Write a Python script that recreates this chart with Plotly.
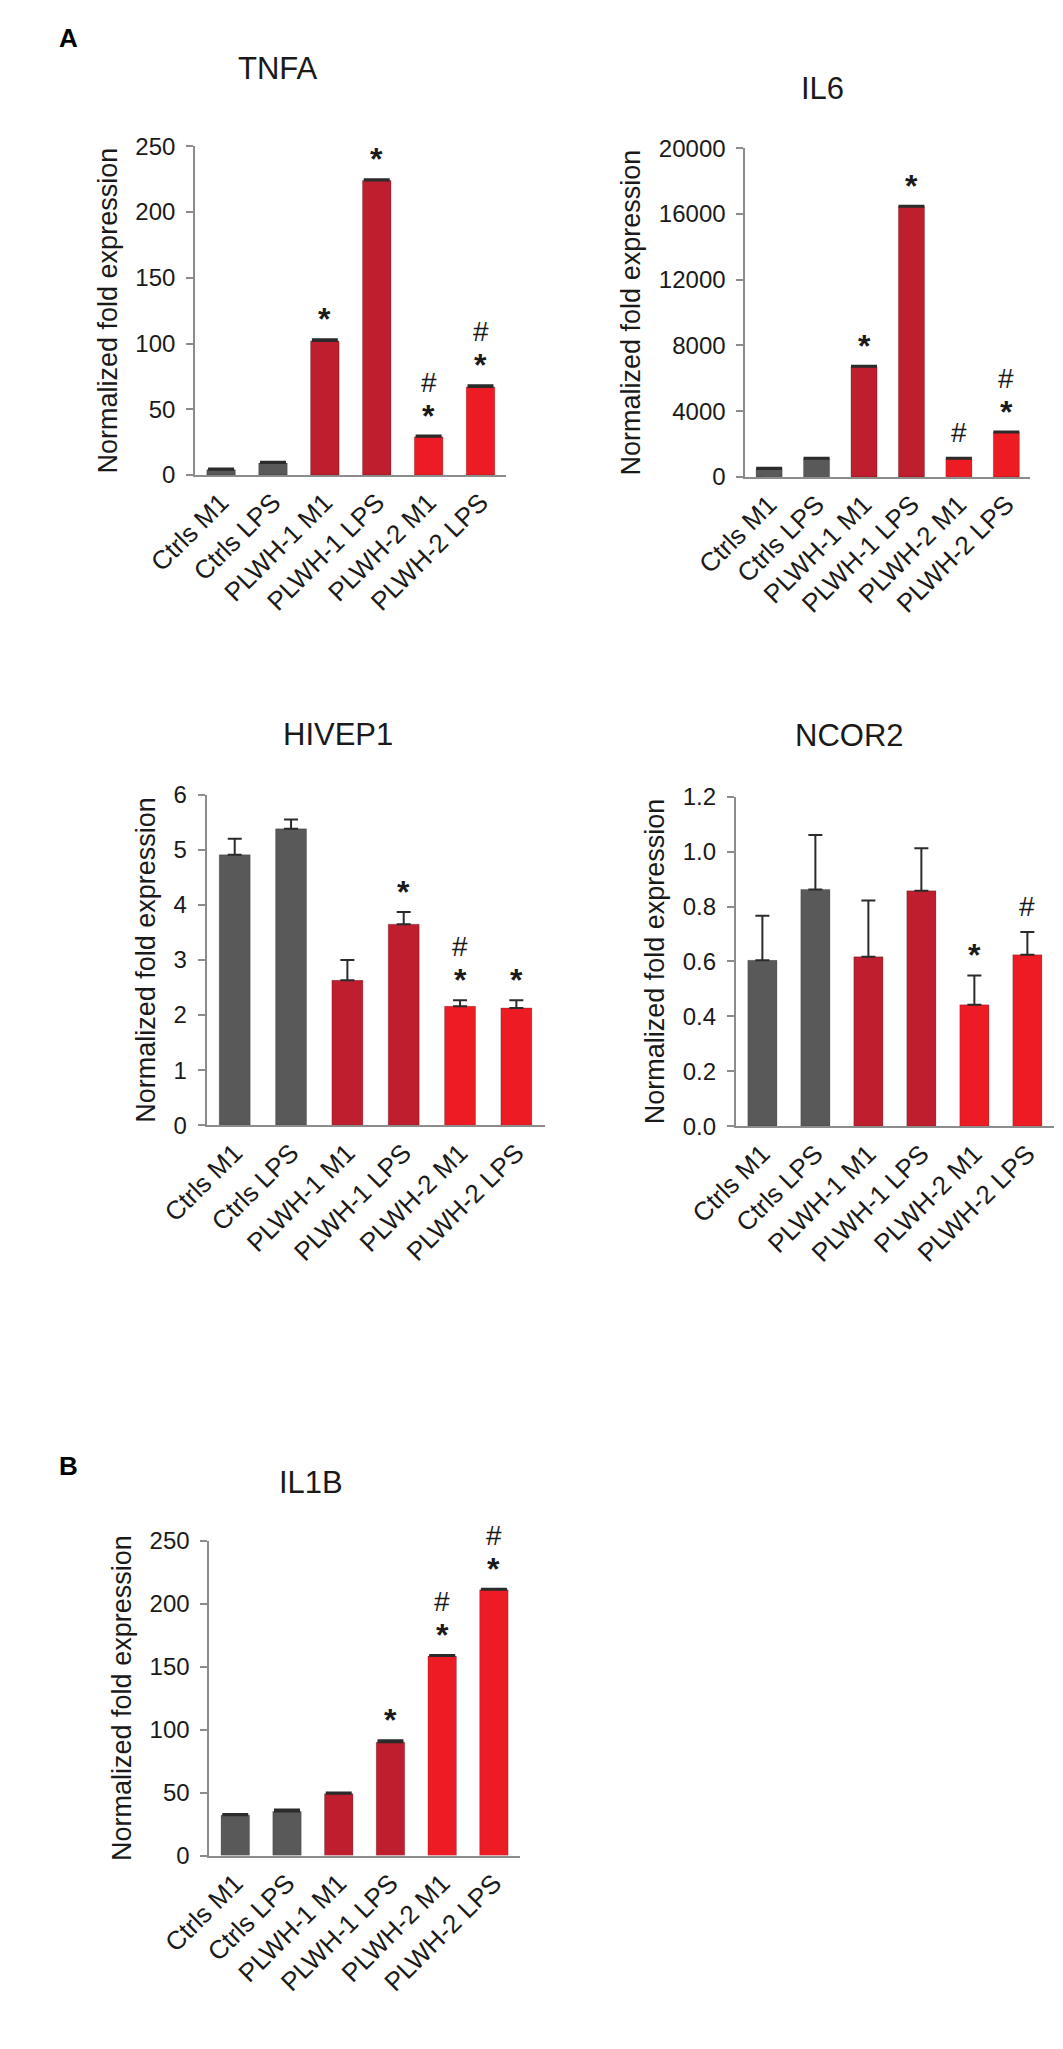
import plotly.graph_objects as go

W, H = 1063, 2049

categories = ["Ctrls M1", "Ctrls LPS", "PLWH-1 M1", "PLWH-1 LPS", "PLWH-2 M1", "PLWH-2 LPS"]
bar_colors = ["#595959", "#595959", "#BE1E2D", "#BE1E2D", "#ED1C24", "#ED1C24"]

tnfa = [4, 9, 102, 224, 29, 67]
tnfa_err = [1, 1, 1.2, 1, 1, 1.2]
tnfa_marks = ["", "", "*", "*", "#*", "#*"]

il6 = [480, 1100, 6700, 16450, 1100, 2700]
il6_err = [80, 60, 60, 60, 60, 60]
il6_marks = ["", "", "*", "*", "#", "#*"]

hivep1 = [4.91, 5.38, 2.63, 3.65, 2.16, 2.13]
hivep1_err = [0.29, 0.17, 0.37, 0.22, 0.11, 0.14]
hivep1_marks = ["", "", "", "*", "#*", "*"]

ncor2 = [0.604, 0.862, 0.617, 0.857, 0.442, 0.624]
ncor2_err = [0.162, 0.198, 0.205, 0.155, 0.107, 0.083]
ncor2_marks = ["", "", "", "", "*", "#"]

il1b = [32, 35, 49, 90, 158.5, 211]
il1b_err = [1, 1.5, 1, 1.5, 0.8, 0.8]
il1b_marks = ["", "", "", "*", "#*", "#*"]

# name, values, errors, marks, y max, y step, tick format, cap width,
# plot box in pixels (left, right, top, bottom), title centre in pixels
panels = [
    ("TNFA", tnfa, tnfa_err, tnfa_marks, 250, 50, "d", 13, (143, 470, 126, 459), (230, 47)),
    ("IL6", il6, il6_err, il6_marks, 20000, 4000, "d", 13, (721, 1020, 128, 461), (802, 67)),
    ("HIVEP1", hivep1, hivep1_err, hivep1_marks, 6, 1, "d", 7, (155, 510, 783, 1118), (293, 722)),
    ("NCOR2", ncor2, ncor2_err, ncor2_marks, 1.2, 0.2, ".1f", 7, (711, 1045, 785, 1119), (830, 723)),
    ("IL1B", il1b, il1b_err, il1b_marks, 250, 50, "d", 13, (158, 484, 1539, 1858), (265, 1480)),
]

FONT = "Liberation Sans, Arial, sans-serif"
TXT = "#1a1a1a"
AXC = "#8c8c8c"

fig = go.Figure()
annotations = []

for n, (name, vals, errs, marks, ymax, step, fmt, cap, box, tpos) in enumerate(panels, start=1):
    sfx = "" if n == 1 else str(n)
    fig.add_trace(go.Bar(
        x=categories, y=vals,
        marker=dict(color=bar_colors, line=dict(width=0.8, color="rgba(0,0,0,0.25)")),
        error_y=dict(type="data", array=errs, arrayminus=[0] * len(errs), symmetric=False,
                     color="#2b2b2b", thickness=2, width=cap),
        xaxis="x" + sfx, yaxis="y" + sfx))
    l, r, t, b = box
    fig.update_layout(**{
        "xaxis" + sfx: dict(domain=[l / W, r / W], anchor="y" + sfx, range=[-0.5, 5.5],
                            showline=True, linecolor=AXC, linewidth=2, ticks="",
                            tickangle=-45, tickfont=dict(size=26, color=TXT, family=FONT),
                            showgrid=False, zeroline=False),
        "yaxis" + sfx: dict(domain=[1 - b / H, 1 - t / H], anchor="x" + sfx, range=[0, ymax],
                            dtick=step, tickformat=fmt, showline=True, linecolor=AXC, linewidth=2,
                            ticks="outside", ticklen=7, tickwidth=2, tickcolor=AXC,
                            ticklabelstandoff=6,
                            tickfont=dict(size=24, color=TXT, family=FONT),
                            showgrid=False, zeroline=False,
                            title=dict(text="Normalized fold expression", standoff=10,
                                       font=dict(size=27, color=TXT, family=FONT))),
    })
    for i, m in enumerate(marks):
        top = vals[i] + errs[i]
        if "*" in m:
            annotations.append(dict(x=categories[i], y=top, xref="x" + sfx, yref="y" + sfx,
                                    text="<b>*</b>", showarrow=False, yanchor="bottom", yshift=0,
                                    font=dict(size=32, color=TXT, family=FONT)))
        if "#" in m:
            annotations.append(dict(x=categories[i], y=top, xref="x" + sfx, yref="y" + sfx,
                                    text="#", showarrow=False, yanchor="bottom",
                                    yshift=36 if "*" in m else 8,
                                    font=dict(size=28, color=TXT, family=FONT)))
    annotations.append(dict(x=tpos[0] / W, y=1 - tpos[1] / H, xref="paper", yref="paper",
                            text=name, showarrow=False, xanchor="center", yanchor="middle",
                            font=dict(size=31, color=TXT, family=FONT)))

for lab, px, py in [("A", 10, 16), ("B", 10, 1463)]:
    annotations.append(dict(x=px / W, y=1 - py / H, xref="paper", yref="paper", text="<b>%s</b>" % lab,
                            showarrow=False, xanchor="center", yanchor="middle",
                            font=dict(size=26, color="#000", family=FONT)))

fig.update_layout(width=W, height=H, margin=dict(l=0, r=0, t=0, b=0),
                  paper_bgcolor="white", plot_bgcolor="white", showlegend=False,
                  bargap=0.45, annotations=annotations)

fig.write_html("out.html")
